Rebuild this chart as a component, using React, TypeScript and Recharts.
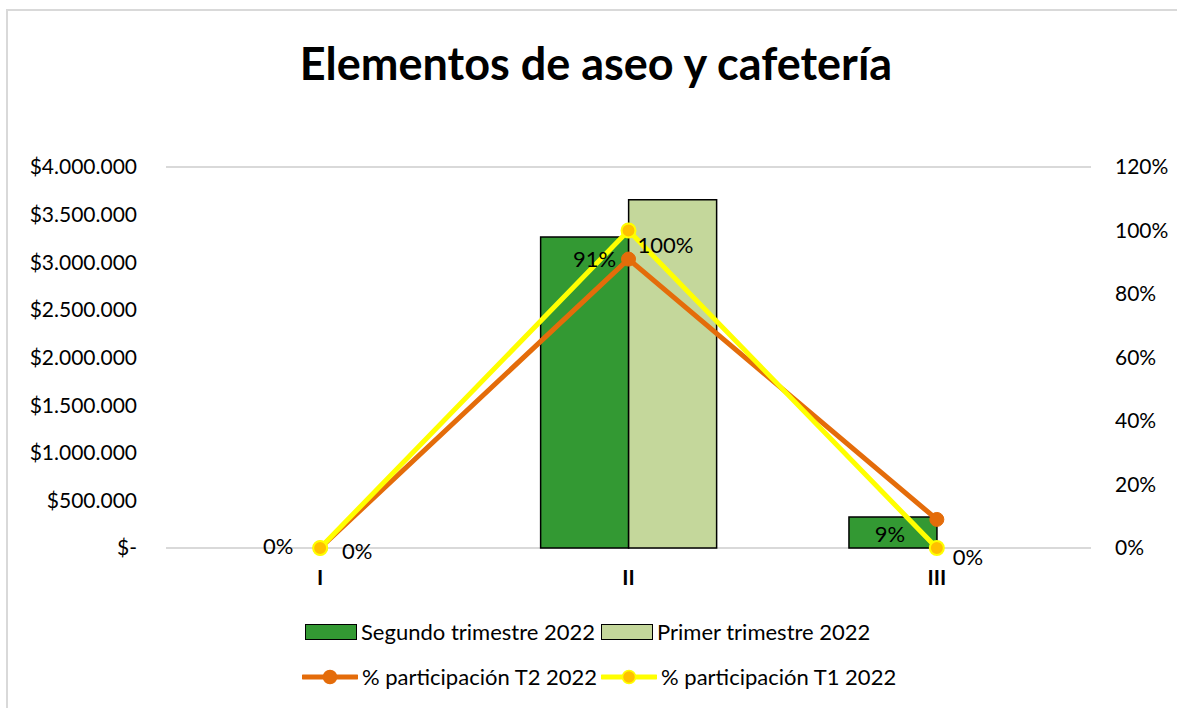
import {
  ComposedChart,
  Bar,
  Line,
  XAxis,
  YAxis,
  CartesianGrid,
} from 'recharts'

// ─── Data ─────────────────────────────────────────────────────────────────────

const CATEGORIES = ['I', 'II', 'III']
const SEGUNDO_T = [0, 3265000, 325000]
const PRIMER_T = [0, 3655000, 0]
const PART_T2 = [0, 0.91, 0.09]
const PART_T1 = [0, 1.0, 0]

const MONEY_TICKS = [0, 500000, 1000000, 1500000, 2000000, 2500000, 3000000, 3500000, 4000000]
const PCT_TICKS = [0, 0.2, 0.4, 0.6, 0.8, 1.0, 1.2]

const data = CATEGORIES.map((cat, i) => ({
  cat,
  segundo: SEGUNDO_T[i],
  primer: PRIMER_T[i],
  t2: PART_T2[i],
  t1: PART_T1[i],
}))

// ─── Style ────────────────────────────────────────────────────────────────────

const FONT = 'Lato, "Liberation Sans", sans-serif'
const DARK_GREEN = '#339933'
const LIGHT_GREEN = '#c4d79b'
const ORANGE = '#e46c0a'
const YELLOW = '#ffff00'
const GOLD = '#ffc000'
const GRID = '#d9d9d9'

// label nudges per point (like Excel's manually placed data labels)
const T2_LABEL_OFFSETS = [[-42, -3], [-34, -1], [-47, 14]]
const T1_LABEL_OFFSETS = [[37, 2], [37, 14], [31, 8]]

const fmtMoney = (v: number) =>
  v === 0 ? '$-' : '$' + v.toString().replace(/\B(?=(\d{3})+(?!\d))/g, '.')
const fmtPct = (v: number) => `${Math.round(v * 100)}%`

function pctLabel(offsets: number[][]) {
  return (props: any) => {
    const { x, y, value, index } = props
    const [dx, dy] = offsets[index] ?? [0, 0]
    return (
      <text
        key={`lbl-${index}`}
        x={x + dx}
        y={y + dy}
        textAnchor="middle"
        dominantBaseline="central"
        fontFamily={FONT}
        fontSize={22}
        fill="#000"
      >
        {fmtPct(value)}
      </text>
    )
  }
}

// ─── Legend ───────────────────────────────────────────────────────────────────

function BoxSwatch({ color }: { color: string }) {
  return (
    <span
      style={{
        display: 'inline-block',
        width: 50,
        height: 14,
        background: color,
        border: '1.5px solid #000',
        marginRight: 4,
      }}
    />
  )
}

function LineSwatch({ color, dot, dotStroke }: { color: string; dot: string; dotStroke: string }) {
  return (
    <svg width={56} height={16} style={{ marginRight: 4 }}>
      <line x1={1} y1={8} x2={55} y2={8} stroke={color} strokeWidth={5} strokeLinecap="round" />
      <circle cx={28} cy={8} r={6.5} fill={dot} stroke={dotStroke} strokeWidth={1.5} />
    </svg>
  )
}

const legendRow: React.CSSProperties = {
  position: 'absolute',
  display: 'flex',
  alignItems: 'center',
  fontFamily: FONT,
  fontSize: 22,
  color: '#000',
  whiteSpace: 'nowrap',
}

// ─── App ──────────────────────────────────────────────────────────────────────

export default function App() {
  return (
    <div
      style={{
        position: 'absolute',
        left: 6,
        top: 9,
        width: 1200,
        height: 720,
        borderLeft: `2px solid ${GRID}`,
        borderTop: `2px solid ${GRID}`,
        background: '#fff',
      }}
    >
      <div
        style={{
          position: 'absolute',
          left: 0,
          width: 1176,
          top: 25,
          textAlign: 'center',
          fontFamily: FONT,
          fontWeight: 700,
          fontSize: 45,
          color: '#000',
        }}
      >
        Elementos de aseo y cafetería
      </div>

      <ComposedChart
        width={1169}
        height={690}
        data={data}
        margin={{ top: 156, right: 0, bottom: 123, left: 0 }}
        barCategoryGap="21.5%"
        barGap={0}
      >
        <CartesianGrid vertical={false} stroke={GRID} strokeWidth={2} />
        <XAxis
          dataKey="cat"
          axisLine={false}
          tickLine={false}
          tickSize={0}
          tickMargin={22}
          height={30}
          tick={{ fontFamily: FONT, fontSize: 21, fontWeight: 700, fill: '#000' }}
        />
        <YAxis
          yAxisId="money"
          orientation="left"
          width={158}
          domain={[0, 4000000]}
          ticks={MONEY_TICKS}
          tickFormatter={fmtMoney}
          axisLine={false}
          tickLine={false}
          tickSize={0}
          tickMargin={29}
          interval={0}
          tick={{ fontFamily: FONT, fontSize: 21, fill: '#000' }}
        />
        <YAxis
          yAxisId="pct"
          orientation="right"
          width={86}
          domain={[0, 1.2]}
          ticks={PCT_TICKS}
          tickFormatter={fmtPct}
          axisLine={false}
          tickLine={false}
          tickSize={0}
          tickMargin={24}
          interval={0}
          tick={{ fontFamily: FONT, fontSize: 21, fill: '#000', textAnchor: 'start' }}
        />
        <Bar
          yAxisId="money"
          dataKey="segundo"
          name="Segundo trimestre 2022"
          fill={DARK_GREEN}
          stroke="#000"
          strokeWidth={1.5}
          isAnimationActive={false}
        />
        <Bar
          yAxisId="money"
          dataKey="primer"
          name="Primer trimestre 2022"
          fill={LIGHT_GREEN}
          stroke="#000"
          strokeWidth={1.5}
          isAnimationActive={false}
        />
        <Line
          yAxisId="pct"
          dataKey="t2"
          name="% participación T2 2022"
          type="linear"
          stroke={ORANGE}
          strokeWidth={5}
          dot={{ r: 7, fill: ORANGE, stroke: ORANGE, strokeWidth: 1 }}
          label={pctLabel(T2_LABEL_OFFSETS)}
          isAnimationActive={false}
        />
        <Line
          yAxisId="pct"
          dataKey="t1"
          name="% participación T1 2022"
          type="linear"
          stroke={YELLOW}
          strokeWidth={5}
          dot={{ r: 7, fill: GOLD, stroke: YELLOW, strokeWidth: 2 }}
          label={pctLabel(T1_LABEL_OFFSETS)}
          isAnimationActive={false}
        />
      </ComposedChart>

      <div style={{ ...legendRow, left: 297, top: 607 }}>
        <BoxSwatch color={DARK_GREEN} />
        <span style={{ marginRight: 6 }}>Segundo trimestre 2022</span>
        <BoxSwatch color={LIGHT_GREEN} />
        <span>Primer trimestre 2022</span>
      </div>
      <div style={{ ...legendRow, left: 294, top: 652 }}>
        <LineSwatch color={ORANGE} dot={ORANGE} dotStroke={ORANGE} />
        <span style={{ marginRight: 4 }}>% participación T2 2022</span>
        <LineSwatch color={YELLOW} dot={GOLD} dotStroke={YELLOW} />
        <span>% participación T1 2022</span>
      </div>
    </div>
  )
}
